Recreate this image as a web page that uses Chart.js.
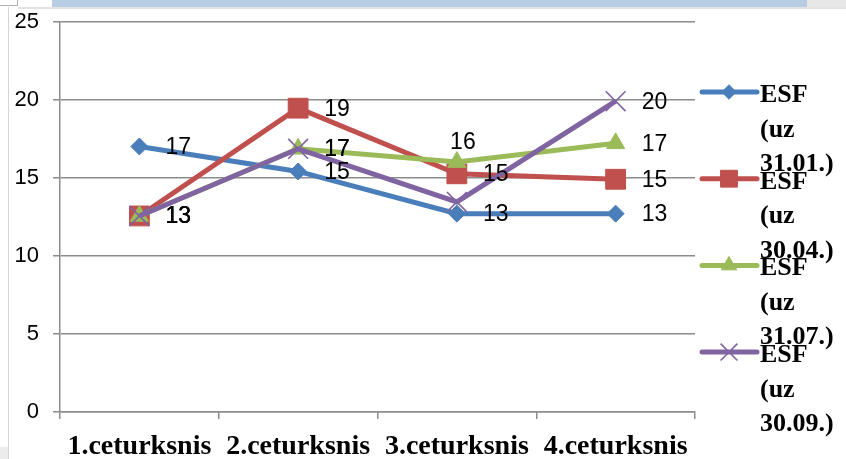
<!DOCTYPE html>
<html>
<head>
<meta charset="utf-8">
<script src="https://cdn.jsdelivr.net/npm/chart.js@4/dist/chart.umd.min.js"></script>
<style>
  html, body { margin: 0; padding: 0; background: #fff; }
  #wrap { position: relative; width: 846px; height: 459px; overflow: hidden; background: #fff; }
  #c { position: absolute; left: 0; top: 0; }
  .deco { position: absolute; }
</style>
</head>
<body>
<div id="wrap">
  <canvas id="c" width="846" height="459"></canvas>
  <div class="deco" style="left:0;top:0;width:17px;height:5px;border-right:1px solid #b0b0b0;border-bottom:1px solid #b0b0b0;background:#fff;"></div>
  <div class="deco" style="left:52px;top:0;width:755px;height:7px;background:#b8cce4;"></div>
  <div class="deco" style="left:807px;top:0;width:39px;height:7px;background:#e6e6e6;"></div>
  <div class="deco" style="left:18px;top:7px;width:828px;height:2px;background:#e2e2e2;"></div>
  <div class="deco" style="left:8px;top:7px;width:1px;height:452px;background:#d4d4d4;"></div>
  <div class="deco" style="left:0;top:447px;width:8px;height:12px;background:#ececec;"></div>
</div>
<script>
// ---- data ----
const categories = ['1.ceturksnis', '2.ceturksnis', '3.ceturksnis', '4.ceturksnis'];
const seriesNames = ['ESF (uz 31.01.)', 'ESF (uz 30.04.)', 'ESF (uz 31.07.)', 'ESF (uz 30.09.)'];
const esf3101 = [17.0, 15.4, 12.7, 12.7];
const esf3004 = [12.55, 19.45, 15.25, 14.9];
const esf3107 = [12.55, 16.85, 16.0, 17.2];
const esf3009 = [12.55, 16.85, 13.45, 19.9];
const yMin = 0, yMax = 25, yStep = 5;

// ---- styles ----
const colors = ['#4a7ebb', '#c0504d', '#9bbb59', '#8064a2'];
const pointStyles = ['rectRot', 'rect', 'triangle', 'crossRot'];
const pointRadii = [8.5, 14, 10.5, 14];
const pointBorderWidths = [1, 1, 1, 1.6];
const labelPlacement = [
  ['right', 'right', 'right', 'right'],
  ['right', 'right', 'right', 'right'],
  ['right', 'right', 'above', 'right'],
  ['right', 'right', 'hidden', 'right']
];
const seriesValues = [esf3101, esf3004, esf3107, esf3009];

const datasets = seriesValues.map((vals, i) => ({
  label: seriesNames[i],
  data: vals,
  borderColor: colors[i],
  backgroundColor: colors[i],
  borderWidth: 5,
  pointStyle: pointStyles[i],
  pointRadius: pointRadii[i],
  pointHoverRadius: pointRadii[i],
  pointBackgroundColor: colors[i],
  pointBorderColor: colors[i],
  pointBorderWidth: pointBorderWidths[i],
  tension: 0,
  fill: false,
  order: 4 - i
}));

function drawMarker(ctx, style, x, y, r, color, bw) {
  ctx.save();
  ctx.fillStyle = color;
  ctx.strokeStyle = color;
  ctx.lineWidth = bw;
  ctx.beginPath();
  if (style === 'rectRot') {
    ctx.moveTo(x - r, y); ctx.lineTo(x, y - r); ctx.lineTo(x + r, y); ctx.lineTo(x, y + r); ctx.closePath();
    ctx.fill(); ctx.stroke();
  } else if (style === 'rect') {
    const s = Math.SQRT1_2 * r;
    ctx.rect(x - s, y - s, 2 * s, 2 * s); ctx.fill(); ctx.stroke();
  } else if (style === 'triangle') {
    let a = 0;
    ctx.moveTo(x + Math.sin(a) * r, y - Math.cos(a) * r);
    a += 2 * Math.PI / 3; ctx.lineTo(x + Math.sin(a) * r, y - Math.cos(a) * r);
    a += 2 * Math.PI / 3; ctx.lineTo(x + Math.sin(a) * r, y - Math.cos(a) * r);
    ctx.closePath(); ctx.fill(); ctx.stroke();
  } else if (style === 'crossRot') {
    const o = Math.SQRT1_2 * r;
    ctx.moveTo(x - o, y - o); ctx.lineTo(x + o, y + o);
    ctx.moveTo(x - o, y + o); ctx.lineTo(x + o, y - o);
    ctx.stroke();
  }
  ctx.restore();
}

const dataLabelsPlugin = {
  id: 'dataLabels',
  afterDatasetsDraw(chart) {
    const ctx = chart.ctx;
    ctx.save();
    ctx.font = '23px "Liberation Sans", Arial, sans-serif';
    ctx.fillStyle = '#000';
    chart.data.datasets.forEach((ds, i) => {
      const meta = chart.getDatasetMeta(i);
      meta.data.forEach((pt, j) => {
        const place = labelPlacement[i][j];
        if (place === 'hidden') return;
        const txt = String(Math.round(ds.data[j]));
        if (place === 'above') {
          ctx.textAlign = 'center'; ctx.textBaseline = 'middle';
          ctx.fillText(txt, pt.x + 6, pt.y - 19);
        } else {
          ctx.textAlign = 'left'; ctx.textBaseline = 'middle';
          ctx.fillText(txt, pt.x + 26, pt.y + 1);
        }
      });
    });
    ctx.restore();
  }
};

const legendPlugin = {
  id: 'customLegend',
  afterDraw(chart) {
    const ctx = chart.ctx;
    const x0 = 702, x1 = 757, mx = 729, tx = 760;
    const y0 = 92, dy = 86.7;
    chart.data.datasets.forEach((ds, i) => {
      const y = y0 + i * dy;
      ctx.save();
      ctx.strokeStyle = colors[i];
      ctx.lineWidth = 5;
      ctx.lineCap = 'round';
      ctx.beginPath(); ctx.moveTo(x0, y); ctx.lineTo(x1, y); ctx.stroke();
      ctx.restore();
      drawMarker(ctx, pointStyles[i], mx, y, pointRadii[i] * 0.85, colors[i], pointBorderWidths[i]);
      ctx.save();
      ctx.font = 'bold 26px "Liberation Serif", "Times New Roman", serif';
      ctx.fillStyle = '#000';
      ctx.textAlign = 'left';
      ctx.textBaseline = 'alphabetic';
      const words = ds.label.split(' ');
      words.forEach((w, k) => ctx.fillText(w, tx, y + 10 + k * 34.5));
      ctx.restore();
    });
  }
};

new Chart(document.getElementById('c'), {
  type: 'line',
  data: { labels: categories, datasets: datasets },
  options: {
    responsive: false,
    animation: false,
    events: [],
    layout: { padding: { left: 0, right: 151, top: 21.5, bottom: 0 } },
    plugins: { legend: { display: false }, tooltip: { enabled: false } },
    scales: {
      x: {
        type: 'category',
        offset: true,
        afterFit: s => { s.height = 47; },
        grid: { offset: true, drawOnChartArea: false, drawTicks: true, tickLength: 7, color: '#8c8c8c', lineWidth: 1.5 },
        border: { display: true, color: '#8c8c8c', width: 1.5 },
        ticks: {
          color: '#000',
          font: { family: '"Liberation Serif", "Times New Roman", serif', size: 28, weight: 'bold' },
          padding: 11, maxRotation: 0, autoSkip: false
        }
      },
      y: {
        min: yMin, max: yMax,
        afterFit: s => { s.width = 60; s.paddingTop = 0; s.paddingBottom = 0; },
        grid: { color: '#8c8c8c', lineWidth: 1.5, drawTicks: true, tickLength: 7 },
        border: { display: true, color: '#8c8c8c', width: 1.5 },
        ticks: {
          stepSize: yStep, color: '#000', padding: 14,
          font: { family: '"Liberation Sans", Arial, sans-serif', size: 22 }
        }
      }
    }
  },
  plugins: [dataLabelsPlugin, legendPlugin]
});
</script>
</body>
</html>
